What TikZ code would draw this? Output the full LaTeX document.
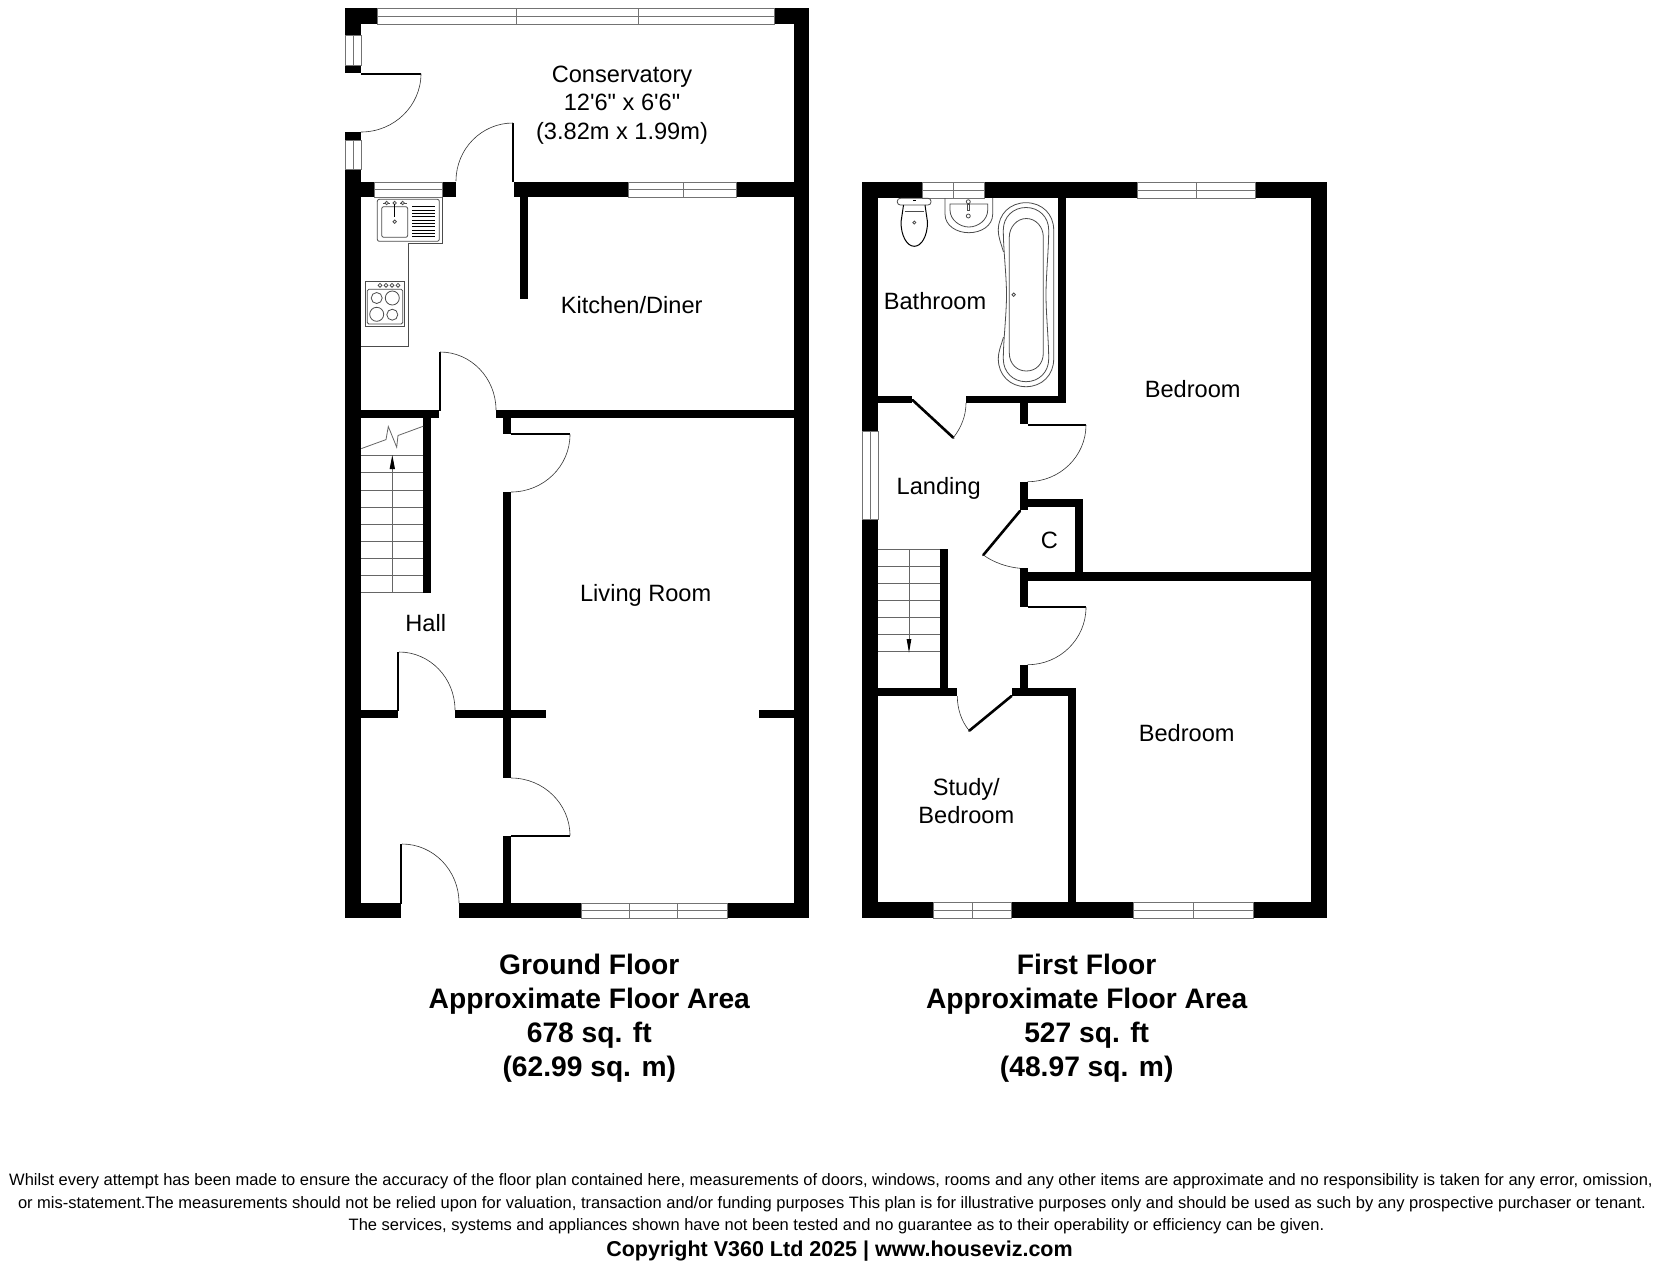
\documentclass[tikz,border=0pt]{standalone}
\usepackage{fontspec}
\setmainfont{Liberation Sans}
\newfontfamily\rawf{Liberation Sans}
\usetikzlibrary{arrows.meta}
\tikzset{
  wall/.style={fill=black,draw=none},
  winline/.style={draw=black!55,line width=0.8pt},
  leaf/.style={draw=black,line width=2pt},
  dleaf/.style={draw=black,line width=2.6pt,line cap=round},
  doorarc/.style={draw=black!80,line width=0.6pt},
  fixture/.style={draw=black!70,line width=0.8pt},
  tread/.style={draw=black!60,line width=0.8pt},
  room/.style={inner sep=0pt,align=center,font=\fontsize{23.6}{28.5}\selectfont},
  title/.style={inner sep=0pt,align=center,font=\fontsize{28.2}{34}\selectfont\bfseries},
  foot/.style={inner sep=0pt,font=\fontsize{16.5}{20}\selectfont},
}
\newcommand\wallrect[4]{\fill[wall] (#1,#2) rectangle (#3,#4);}
\newcommand\hwin[4]{% x1 x2 y1 y2
  \draw[winline] (#1,#3) rectangle (#2,#4);
  \draw[winline] (#1,{(#3+#4)/2}) -- (#2,{(#3+#4)/2});}
\newcommand\vwin[4]{% x1 x2 y1 y2
  \draw[winline] (#1,#3) rectangle (#2,#4);
  \draw[winline] ({(#1+#2)/2},#3) -- ({(#1+#2)/2},#4);}
\newcommand\qarc[4]{\draw[doorarc] (#1,#2) .. controls ({#1+.5523*(#3-#1)},#2) and (#3,{#4-.5523*(#4-#2)}) .. (#3,#4);}
\begin{document}
\begin{tikzpicture}[x=1pt,y=-1pt]
\useasboundingbox (0,0) rectangle (1656,1264);
\fill[white] (0,0) rectangle (1656,1264);
%% GROUND FLOOR walls
\wallrect{345}{8}{377}{24}
\wallrect{345}{24}{361}{35}
\wallrect{774}{8}{809}{24}
\wallrect{794}{24}{809}{918}
\wallrect{345}{65}{361}{73}
\wallrect{345}{132}{361}{140}
\wallrect{345}{169}{361}{918}
\wallrect{361}{182}{374}{197}
\wallrect{442}{182}{456}{197}
\wallrect{514}{182}{628}{197}
\wallrect{736}{182}{794}{197}
\wallrect{520}{197}{528}{299}
\wallrect{361}{410}{438.5}{418}
\wallrect{496}{410}{794}{418}
\wallrect{423}{418}{431}{593}
\wallrect{503}{418}{511}{434}
\wallrect{503}{492}{511}{778}
\wallrect{503}{836}{511}{903}
\wallrect{361}{710}{397.5}{718}
\wallrect{455}{710}{546}{718}
\wallrect{759}{710}{794}{718}
\wallrect{345}{903}{401}{918}
\wallrect{459}{903}{581}{918}
\wallrect{727}{903}{809}{918}
%% windows
\hwin{377}{774}{8}{24}
\draw[winline] (516.7,8) -- (516.7,24) (638.3,8) -- (638.3,24);
\vwin{345}{361}{35}{65}
\vwin{345}{361}{140}{169}
\hwin{374}{442}{182}{197}
\hwin{628}{736}{182}{197}
\draw[winline] (683,182) -- (683,197);
\hwin{581}{727}{903}{918}
\draw[winline] (629.3,903) -- (629.3,918) (677.7,903) -- (677.7,918);
%% door leaves
\draw[leaf] (361,73.5) -- (421,73.5);
\draw[leaf] (513,123) -- (513,182);
\draw[leaf] (439.5,352) -- (439.5,411);
\draw[leaf] (511,434.4) -- (570,434.4);
\draw[leaf] (511,835.7) -- (570,835.7);
\draw[leaf] (398.3,652) -- (398.3,711);
\draw[leaf] (400.5,844) -- (400.5,904);
\qarc{361}{132}{421}{73.5}
\qarc{513}{123}{456}{181}
\qarc{440}{352}{496}{410}
\qarc{511}{492}{570}{434.4}
\qarc{511}{778}{570}{835.7}
\qarc{399}{652}{455}{710}
\qarc{402}{844}{459}{903}
%% stairs
\foreach \ty in {455.4,472.7,489.9,507.1,524.3,541.2,558.4,575.3,592.5}
  \draw[tread] (361,\ty) -- (423,\ty);
\draw[tread] (392.3,592.5) -- (392.3,468);
\fill[black] (392.3,455) -- (395,469) -- (389.6,469) -- cycle;
\draw[tread] (361.3,448.6) -- (386,439.6) -- (388.3,426.5) -- (396.7,447.2) -- (398,435.5) -- (423.3,426.2);
%% kitchen
\draw[fixture] (442,197) -- (442,243.3) -- (408,243.3) -- (408,346.7) -- (361,346.7);
\draw[fixture,rounded corners=2pt] (377.3,199.3) rectangle (439.3,241.3);
\draw[fixture,rounded corners=2pt] (381.7,206.7) rectangle (407.7,237.3);
\foreach \dy in {206.7,210,213.3,216.7,220,223.3,226.7,230,233.3,236.7}
  \draw[black,line width=0.9pt] (412,\dy) -- (435.3,\dy);
\foreach \tx in {386.7,394.7,402.7}
  \draw[fixture] (\tx,203) circle (1.7);
\draw[fixture] (383,203) -- (385,203) (388.4,203) -- (390,203) (400,203) -- (401,203) (404.4,203) -- (406.5,203);
\draw[black,line width=1.2pt] (394.7,204) -- (394.7,217);
\draw[fixture] (394.7,221.7) circle (1.7);
\draw[fixture] (365.3,281.3) rectangle (404.3,326.7);
\draw[fixture,rounded corners=1.5pt] (367.3,289.3) rectangle (402.7,324);
\foreach \kx in {380,386,392,398}
  \draw[fixture] (\kx,285.3) circle (1.9);
\draw[fixture] (376.7,298) circle (5.5);
\draw[fixture] (392.3,298) circle (7);
\draw[fixture] (376.7,314.3) circle (7);
\draw[fixture] (392.3,314.7) circle (5.5);
%% ground labels
\node[room] (cons) at (622,105) {Conservatory\\{\rawf 12'6" x 6'6"}\\(3.82m x 1.99m)};
\node[room] (kitchen) at (631.7,305) {Kitchen/Diner};
\node[room] (living) at (645.7,595) {Living Room};
\node[room] (hall) at (425.7,623) {Hall};
%% FIRST FLOOR walls
\wallrect{862}{182}{922}{198}
\wallrect{984}{182}{1137}{198}
\wallrect{1255}{182}{1327}{198}
\wallrect{862}{198}{878}{431}
\wallrect{862}{519}{878}{918}
\wallrect{1311}{198}{1327}{918}
\wallrect{1058}{198}{1066}{403.3}
\wallrect{878}{396}{912}{403.3}
\wallrect{966}{396}{1066}{403.3}
\wallrect{1019.7}{403}{1027.7}{424}
\wallrect{1019.7}{481.7}{1027.7}{510}
\wallrect{1019.7}{499.3}{1083.3}{507.3}
\wallrect{1075.3}{499.3}{1083.3}{573}
\wallrect{1019.7}{568.3}{1027.7}{606.7}
\wallrect{1027.7}{572.3}{1311}{580.7}
\wallrect{1019.7}{664.7}{1027.7}{696}
\wallrect{940}{549.3}{948}{696}
\wallrect{878}{688.3}{957.3}{696}
\wallrect{1011.7}{688.3}{1075.7}{696}
\wallrect{1067.7}{688.3}{1075.7}{903}
\wallrect{862}{902.3}{933}{918}
\wallrect{1011.3}{902.3}{1133}{918}
\wallrect{1253.3}{902.3}{1327}{918}
%% windows
\hwin{922}{984}{182}{198}
\draw[winline] (953.3,182) -- (953.3,198);
\hwin{1137}{1255}{182}{198}
\draw[winline] (1196,182) -- (1196,198);
\vwin{862}{878}{431}{519}
\hwin{933}{1011.3}{902.3}{918}
\draw[winline] (972.7,902.3) -- (972.7,918);
\hwin{1133}{1253.3}{902.3}{918}
\draw[winline] (1193.3,902.3) -- (1193.3,918);
%% doors
\draw[dleaf] (912.5,400) -- (953.3,437.7);
\draw[doorarc] (966,403) .. controls (966,416) and (961,428) .. (953.3,437.7);
\draw[leaf] (1027.7,424.8) -- (1086,424.8);
\qarc{1027.7}{481.7}{1086}{424.8}
\draw[dleaf] (1020,511) -- (983.3,555);
\draw[doorarc] (983.3,555) .. controls (993,562) and (1006,567) .. (1020,568.3);
\draw[leaf] (1027.7,607.2) -- (1086,607.2);
\qarc{1027.7}{664.7}{1086}{607.2}
\draw[dleaf] (969.3,730.7) -- (1011.5,696);
\draw[doorarc] (957.3,696) .. controls (957.3,708) and (961,721) .. (969.3,730.7);
%% stairs
\foreach \ty in {549.3,566.3,583.3,600.3,617.3,634.3,651.7}
  \draw[tread] (878,\ty) -- (940,\ty);
\draw[tread] (909,549.3) -- (909,640);
\fill[black] (909,652.7) -- (906.6,639) -- (911.4,639) -- cycle;
%% toilet
\draw[fixture,rounded corners=3pt] (897.3,198.3) rectangle (931,205);
\draw[black,line width=1pt] (903.5,205) -- (902.5,212) -- (901,222) .. controls (901,236) and (907,246.3) .. (914.3,246.3) .. controls (921.5,246.3) and (927.5,236) .. (927.5,222) -- (926,212) -- (925,205);
\draw[fixture] (904.5,211) -- (924,211);
\draw[fixture] (914.3,222.5) circle (1.5);
\fill[black] (912.5,199.8) rectangle (916,201.3);
%% basin
\draw[fixture] (945,198) -- (945,214) .. controls (945,226) and (957,232.7) .. (968.8,232.7) .. controls (981,232.7) and (992.7,226) .. (992.7,214) -- (992.7,198);
\draw[fixture] (950,204) -- (950,210) .. controls (950,220) and (960,227) .. (968.8,227) .. controls (978,227) and (987.7,220) .. (987.7,210) -- (987.7,204) -- cycle;
\draw[fixture] (968.3,201.7) circle (2);
\draw[fixture] (967.3,204) rectangle (969.3,210.5);
\draw[fixture] (968.3,216) circle (2);
%% bath
\draw[fixture] (1003.5,252) .. controls (1001,243) and (998.3,238) .. (998.3,230) .. controls (998.3,214) and (1010,202.7) .. (1026,202.7) .. controls (1042,202.7) and (1053.7,214) .. (1053.7,230) -- (1053.7,359) .. controls (1053.7,375) and (1042,386.7) .. (1026,386.7) .. controls (1010,386.7) and (998.3,375) .. (998.3,359) .. controls (998.3,351) and (1001,346) .. (1003.5,337);
\draw[fixture] (1003.3,230) .. controls (1003.3,217) and (1013,207.5) .. (1026,207.5) .. controls (1039,207.5) and (1048.7,217) .. (1048.7,230) .. controls (1048.7,250) and (1046,275) .. (1046,294.7) .. controls (1046,315) and (1048.7,340) .. (1048.7,359) .. controls (1048.7,372) and (1039,381.7) .. (1026,381.7) .. controls (1013,381.7) and (1003.3,372) .. (1003.3,359) .. controls (1003.3,340) and (1006.5,315) .. (1006.5,294.7) .. controls (1006.5,275) and (1003.3,250) .. (1003.3,230) -- cycle;
\draw[fixture] (1009.3,237) .. controls (1009.3,227) and (1017,218.5) .. (1026.3,218.5) .. controls (1036,218.5) and (1043.3,227) .. (1043.3,237) -- (1043.3,353) .. controls (1043.3,364) and (1036,371) .. (1026.3,371) .. controls (1017,371) and (1009.3,364) .. (1009.3,353) -- cycle;
\draw[fixture] (1013.7,294.7) circle (1.7);
%% first labels
\node[room] (bath) at (935,301) {Bathroom};
\node[room] (bed1) at (1192.7,389) {Bedroom};
\node[room] (landing) at (938.7,488) {Landing};
\node[room] (cup) at (1049.3,540) {C};
\node[room] (bed2) at (1186.7,733.3) {Bedroom};
\node[room] (study) at (966.3,801) {Study/\\Bedroom};
%% titles
\node[title] (gf) at (589.3,1018) {Ground Floor\\Approximate Floor Area\\678 sq. ft\\(62.99 sq. m)};
\node[title] (ff) at (1086.7,1018) {First Floor\\Approximate Floor Area\\527 sq. ft\\(48.97 sq. m)};
%% footer
\node[foot] (f1) at (831,1181.7) {Whilst every attempt has been made to ensure the accuracy of the floor plan contained here, measurements of doors, windows, rooms and any other items are approximate and no responsibility is taken for any error, omission,};
\node[foot] (f2) at (832,1204) {or mis-statement.The measurements should not be relied upon for valuation, transaction and/or funding purposes This plan is for illustrative purposes only and should be used as such by any prospective purchaser or tenant.};
\node[foot] (f3) at (836.5,1226) {The services, systems and appliances shown have not been tested and no guarantee as to their operability or efficiency can be given.};
\node[inner sep=0pt,font=\fontsize{21.5}{26}\selectfont\bfseries] (f4) at (839.5,1251.5) {Copyright V360 Ltd 2025 | www.houseviz.com};
\end{tikzpicture}
\end{document}
